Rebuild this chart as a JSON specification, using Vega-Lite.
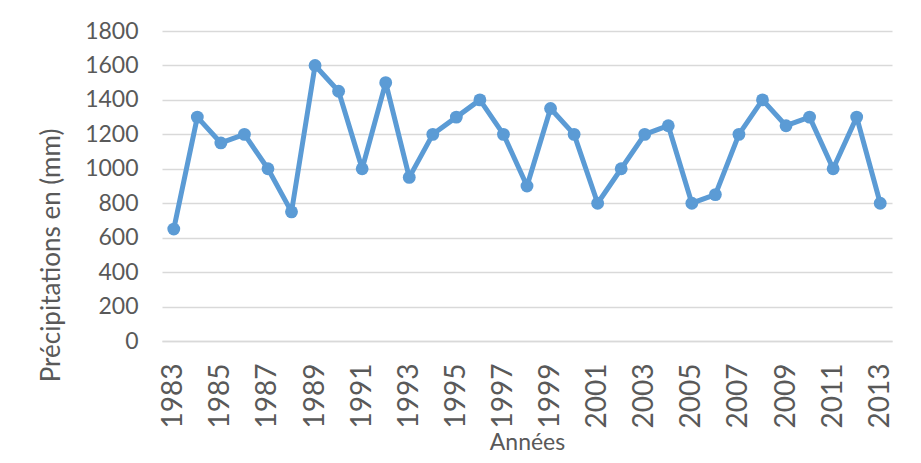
{
  "$schema": "https://vega.github.io/schema/vega-lite/v6.json",
  "width": 730,
  "height": 310,
  "autosize": "none",
  "padding": {"left": 162, "top": 31, "right": 29, "bottom": 122},
  "background": "white",
  "config": {
    "view": {"stroke": null},
    "font": "Lato",
    "axis": {"labelColor": "#595959", "titleColor": "#595959", "labelFont": "Lato", "titleFont": "Lato", "titleFontWeight": "normal"}
  },
  "data": {
    "values": [
      {"year": "1983", "mm": 650}, {"year": "1984", "mm": 1300}, {"year": "1985", "mm": 1150},
      {"year": "1986", "mm": 1200}, {"year": "1987", "mm": 1000}, {"year": "1988", "mm": 750},
      {"year": "1989", "mm": 1600}, {"year": "1990", "mm": 1450}, {"year": "1991", "mm": 1000},
      {"year": "1992", "mm": 1500}, {"year": "1993", "mm": 950}, {"year": "1994", "mm": 1200},
      {"year": "1995", "mm": 1300}, {"year": "1996", "mm": 1400}, {"year": "1997", "mm": 1200},
      {"year": "1998", "mm": 900}, {"year": "1999", "mm": 1350}, {"year": "2000", "mm": 1200},
      {"year": "2001", "mm": 800}, {"year": "2002", "mm": 1000}, {"year": "2003", "mm": 1200},
      {"year": "2004", "mm": 1250}, {"year": "2005", "mm": 800}, {"year": "2006", "mm": 850},
      {"year": "2007", "mm": 1200}, {"year": "2008", "mm": 1400}, {"year": "2009", "mm": 1250},
      {"year": "2010", "mm": 1300}, {"year": "2011", "mm": 1000}, {"year": "2012", "mm": 1300},
      {"year": "2013", "mm": 800}
    ]
  },
  "encoding": {
    "x": {
      "field": "year", "type": "ordinal",
      "scale": {"type": "point", "padding": 0.5},
      "axis": {
        "title": "Années", "titleFontSize": 23, "titlePadding": 4,
        "values": ["1983","1985","1987","1989","1991","1993","1995","1997","1999","2001","2003","2005","2007","2009","2011","2013"],
        "labelAngle": -90, "labelFontSize": 28, "labelPadding": 22,
        "ticks": false, "domain": true, "domainColor": "#D9D9D9", "domainWidth": 1.5, "grid": false
      }
    },
    "y": {
      "field": "mm", "type": "quantitative",
      "scale": {"domain": [0, 1800]},
      "axis": {
        "title": "Précipitations en (mm)", "titleFontSize": 26, "titleY": 224, "titleX": -98,
        "values": [0,200,400,600,800,1000,1200,1400,1600,1800], "format": "d",
        "labelFontSize": 23, "labelPadding": 24,
        "ticks": false, "domain": false,
        "grid": true, "gridColor": "#D9D9D9", "gridWidth": 1.5
      }
    }
  },
  "layer": [
    {"mark": {"type": "line", "color": "#5B9BD5", "strokeWidth": 5, "strokeJoin": "round"}},
    {"mark": {"type": "point", "filled": true, "color": "#5B9BD5", "opacity": 1, "size": 165}}
  ]
}
